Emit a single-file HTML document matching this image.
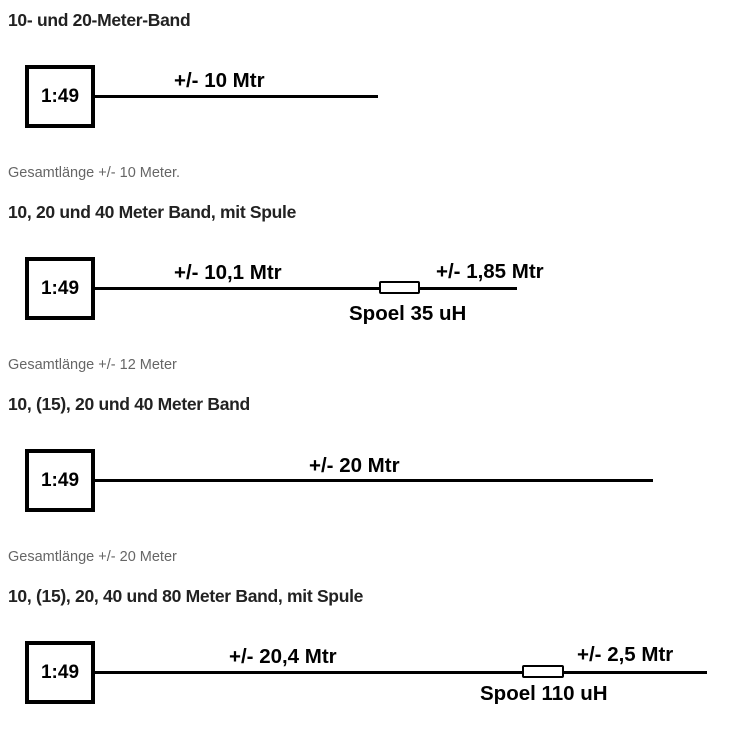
<!DOCTYPE html>
<html><head><meta charset="utf-8"><style>
body{margin:0;width:751px;height:729px;background:#fff;position:relative;overflow:hidden;font-family:"Liberation Sans",sans-serif}
.a{position:absolute;white-space:nowrap}
.h{font-weight:bold;font-size:17.5px;color:#222;letter-spacing:-.3px}
.c{font-size:14.5px;color:#666}
.box{position:absolute;left:25px;width:62px;height:55px;border:4px solid #000;font-weight:bold;font-size:19px;text-align:center;line-height:55px}
.ln{position:absolute;left:95px;height:3px;background:#000}
.l{position:absolute;font-weight:bold;font-size:20.5px;white-space:nowrap;line-height:20px}
.coil{position:absolute;height:9px;border:2px solid #000;background:#fff;border-radius:2px}
</style></head><body>
<div class="a h" style="left:8px;top:10px">10- und 20-Meter-Band</div>
<div class="box" style="top:65px">1:49</div>
<div class="ln" style="top:95px;width:283px"></div>
<div class="l" style="left:174px;top:71px">+/- 10 Mtr</div>
<div class="a c" style="left:8px;top:165px">Gesamtlänge +/- 10 Meter.</div>

<div class="a h" style="left:8px;top:202px">10, 20 und 40 Meter Band, mit Spule</div>
<div class="box" style="top:257px">1:49</div>
<div class="ln" style="top:287px;width:422px"></div>
<div class="coil" style="left:379px;top:281px;width:37px"></div>
<div class="l" style="left:174px;top:263px">+/- 10,1 Mtr</div>
<div class="l" style="left:436px;top:262px">+/- 1,85 Mtr</div>
<div class="l" style="left:349px;top:304px">Spoel 35 uH</div>
<div class="a c" style="left:8px;top:357px">Gesamtlänge +/- 12 Meter</div>

<div class="a h" style="left:8px;top:394px">10, (15), 20 und 40 Meter Band</div>
<div class="box" style="top:449px">1:49</div>
<div class="ln" style="top:479px;width:558px"></div>
<div class="l" style="left:309px;top:456px">+/- 20 Mtr</div>
<div class="a c" style="left:8px;top:549px">Gesamtlänge +/- 20 Meter</div>

<div class="a h" style="left:8px;top:586px">10, (15), 20, 40 und 80 Meter Band, mit Spule</div>
<div class="box" style="top:641px">1:49</div>
<div class="ln" style="top:671px;width:612px"></div>
<div class="coil" style="left:522px;top:665px;width:38px"></div>
<div class="l" style="left:229px;top:647px">+/- 20,4 Mtr</div>
<div class="l" style="left:577px;top:645px">+/- 2,5 Mtr</div>
<div class="l" style="left:480px;top:684px">Spoel 110 uH</div>
</body></html>
